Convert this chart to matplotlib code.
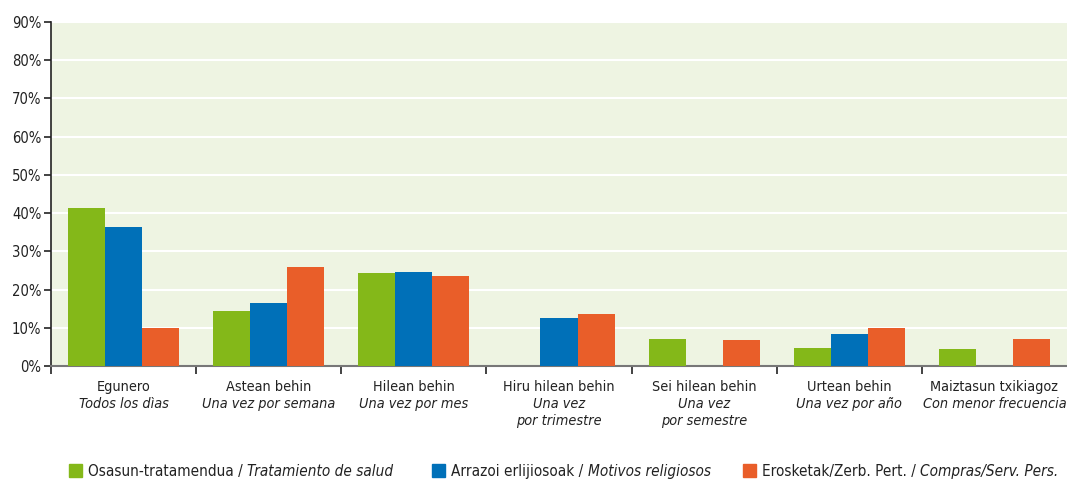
import matplotlib
matplotlib.use("Agg")
import matplotlib.pyplot as plt
import numpy as np
from matplotlib.transforms import blended_transform_factory

cats_eu = ["Egunero", "Astean behin", "Hilean behin", "Hiru hilean behin",
           "Sei hilean behin", "Urtean behin", "Maiztasun txikiagoz"]
cats_es = ["Todos los dìas", "Una vez por semana", "Una vez por mes", "Una vez\npor trimestre",
           "Una vez\npor semestre", "Una vez por año", "Con menor frecuencia"]
health = [41.4, 14.4, 24.3, 0, 7.1, 4.7, 4.5]
religious = [36.4, 16.5, 24.6, 12.6, 0, 8.4, 0]
shopping = [9.9, 25.9, 23.6, 13.6, 6.8, 9.9, 7.1]
series_eu = ["Osasun-tratamendua / ", "Arrazoi erlijiosoak / ", "Erosketak/Zerb. Pert. / "]
series_es = ["Tratamiento de salud", "Motivos religiosos", "Compras/Serv. Pers."]
colors = ["#84B819", "#0070B8", "#E95E29"]
yticks = [0, 10, 20, 30, 40, 50, 60, 70, 80, 90]

plt.rcParams['font.family'] = ['DejaVu Sans']
TXT = "#222222"
fig = plt.figure(figsize=(10.67, 4.79), dpi=100)
ax = fig.add_axes([51/1067, 113/479, 1 - 51/1067, 344/479])
ax.set_facecolor("#EEF4E2")
x = np.arange(len(cats_eu))
w = 0.255
for i, (vals, c) in enumerate(zip([health, religious, shopping], colors)):
    ax.bar(x + (i - 1) * w, vals, width=w, color=c, zorder=3)
ax.set_xlim(-0.5, len(cats_eu) - 0.5)
ax.set_ylim(0, 90)
ax.set_yticks(yticks)
ax.set_yticklabels([f"{v}%" for v in yticks], fontsize=10.6, color=TXT, fontstretch='condensed')
ax.yaxis.grid(True, color="white", linewidth=1.5, zorder=1)
ax.set_axisbelow(True)
ax.set_xticks(np.arange(len(cats_eu)) - 0.5)
ax.set_xticklabels([])
ax.tick_params(axis='x', length=6, width=1.2, color=TXT, direction='out')
ax.tick_params(axis='y', length=5, width=1.2, color=TXT, pad=2)
for s in ["top", "right"]:
    ax.spines[s].set_visible(False)
ax.spines["left"].set_color(TXT)
ax.spines["left"].set_linewidth(1.2)
ax.spines["bottom"].set_color("#777777")
ax.spines["bottom"].set_linewidth(1.5)

FSX = 10.4
tr = blended_transform_factory(ax.transData, fig.transFigure)
for i in range(len(cats_eu)):
    ax.text(i, 1 - 380/479, cats_eu[i], transform=tr, ha='center', va='top', fontsize=FSX,
            color=TXT, fontstretch='condensed')
    ax.text(i, 1 - 397/479, cats_es[i], transform=tr, ha='center', va='top', fontsize=FSX,
            color=TXT, style='italic', linespacing=1.3, fontstretch='condensed')

fig.canvas.draw()
r = fig.canvas.get_renderer()
lx = [69, 432, 743]
ly = 1 - 476/479
FSL = 11.0
for i in range(3):
    fig.patches.append(plt.Rectangle((lx[i]/1067, 1 - 477/479), 13/1067, 13/479,
                                     transform=fig.transFigure, color=colors[i], figure=fig))
    t = fig.text((lx[i] + 19)/1067, ly, series_eu[i], fontsize=FSL, va='baseline', ha='left',
                 color=TXT, fontstretch='condensed')
    bb = t.get_window_extent(r)
    fig.text(bb.x1/1067, ly, series_es[i], fontsize=FSL, va='baseline', ha='left',
             color=TXT, style='italic', fontstretch='condensed')

fig.savefig("out.png", dpi=100)
